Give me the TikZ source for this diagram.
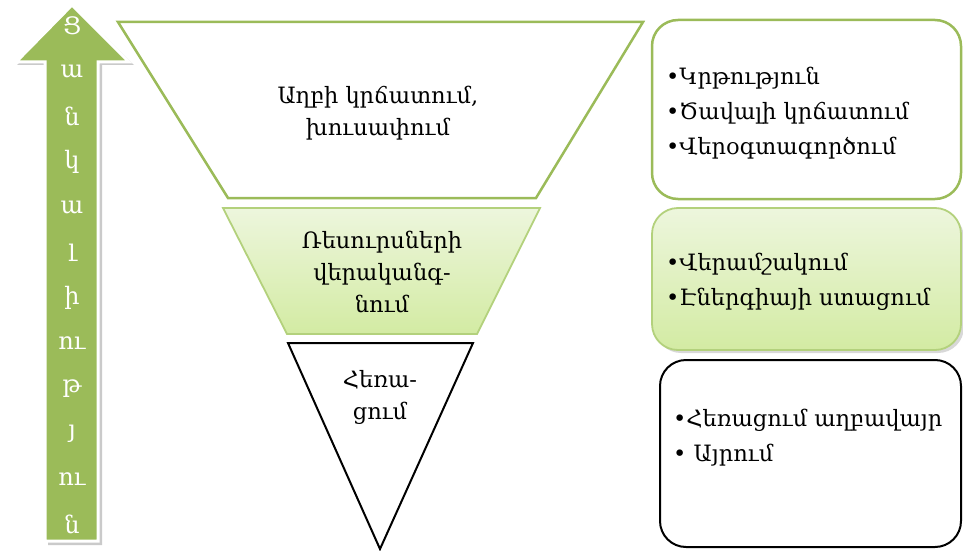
\documentclass[tikz,border=0pt]{standalone}
\usepackage{fontspec}
\setmainfont{DejaVu Serif}
\usetikzlibrary{positioning}
\definecolor{leafgreen}{HTML}{9BBB59}
\definecolor{paleleaf}{HTML}{EDF6DD}
\definecolor{limeleaf}{HTML}{D3EBA3}
\definecolor{limeedge}{HTML}{B3D17C}
\begin{document}
\begin{tikzpicture}
[x=1pt,y=-1pt,
funnelpart/.style={draw=leafgreen,line width=2.5pt,fill=white,line join=miter},
funnelmid/.style={draw=limeedge,line width=1.8pt,top color=paleleaf,bottom color=limeleaf},
funneltip/.style={draw=black,line width=2pt,fill=white},
listbox/.style={rounded corners=26pt,line width=2.5pt,fill=white},
funneltext/.style={align=center,inner sep=0pt,font=\fontsize{22.5}{32}\selectfont},
listtext/.style={align=left,inner sep=0pt,anchor=west,font=\fontsize{22.5}{35}\selectfont},
arrowletter/.style={text=white,inner sep=0pt,font=\fontsize{24}{26}\selectfont}
]
\useasboundingbox (0,0) rectangle (963,551);
\clip (0,0) rectangle (963,551);
% arrow on the left
\fill[black!35,opacity=.6] (48,545) -- (48,65) -- (17,65) -- (75,7) -- (134,65) -- (102,65) -- (102,545) -- cycle;
\draw[fill=leafgreen,draw=white,line width=3pt,line join=miter]
  (45,541) -- (45,62) -- (16,62) -- (72,5) -- (129,62) -- (98,62) -- (98,541) -- cycle;
\foreach \ch [count=\i from 0] in {Ց,ա,ն,կ,ա,լ,ի,ու,թ,յ,ու,ն}
  \node[arrowletter] (L\i) at (72,26+45.3*\i) {\ch};
% funnel
\draw[funnelpart] (118,22) -- (643,22) -- (536,198) -- (228,198) -- cycle;
\draw[funnelmid] (223,208) -- (540,208) -- (477,334) -- (287,334) -- cycle;
\draw[funneltip] (288,343) -- (473,343) -- (380,549) -- cycle;
\node[funneltext] (topText) at (378,113) {Աղբի կրճատում,\\խուսափում};
\node[funneltext] (midText) at (382,272) {Ռեսուրսների\\վերականգ-\\նում};
\node[funneltext] (tipText) at (380,397) {Հեռա-\\ցում};
% boxes on the right
\draw[listbox,draw=leafgreen] (652,20) rectangle (961,199);
\fill[black!30,opacity=.5,rounded corners=26pt] (655,212) rectangle (964,353);
\draw[listbox,draw=limeedge,line width=1.8pt,top color=paleleaf,bottom color=limeleaf] (652,208) rectangle (961,350);
\draw[listbox,draw=black,line width=2pt] (660,360) rectangle (961,547);
\node[listtext] (topList) at (666,113) {•Կրթություն\\•Ծավալի կրճատում\\•Վերօգտագործում};
\node[listtext] (midList) at (666,282) {•Վերամշակում\\•Էներգիայի ստացում};
\node[listtext] (lowList) at (673,438) {•Հեռացում աղբավայր\\• Այրում};
\end{tikzpicture}
\end{document}
